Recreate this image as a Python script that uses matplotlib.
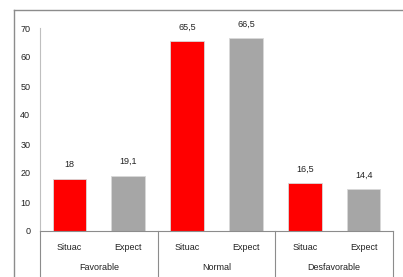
import matplotlib.pyplot as plt
from matplotlib.lines import Line2D

groups = ["Favorable", "Normal", "Desfavorable"]
series = ["Situac", "Expect"]
situac = [18, 65.5, 16.5]
expect = [19.1, 66.5, 14.4]
colors = ["#FF0000", "#A6A6A6"]

W, H = 403, 277
fig = plt.figure(figsize=(W / 100, H / 100), dpi=100)
plt.rcParams['font.family'] = ['Liberation Sans', 'DejaVu Sans']

# outer chart frame (only top and left edges visible in the crop)
fig.add_artist(Line2D([14 / W, 1], [1 - 10 / H, 1 - 10 / H], color="#8c8c8c", lw=1.0))
fig.add_artist(Line2D([14 / W, 14 / W], [0, 1 - 10 / H], color="#8c8c8c", lw=1.0))

ax = fig.add_axes([40 / W, 46 / H, (393 - 40) / W, (231 - 28) / H])

n = len(groups)
width = 0.57
for i in range(n):
    for j, vals in enumerate([situac, expect]):
        x = i * 2 + j + 0.5
        ax.bar(x, vals[i], width=width, color=colors[j], edgecolor="#d9d9d9", linewidth=0.6)
        ax.text(x, vals[i] + 4.8, str(vals[i]).replace(".", ","), ha="center", va="center",
                fontsize=6.5, color="#222222")

ax.set_xlim(0, 2 * n)
ax.set_ylim(0, 70)
ax.set_yticks(range(0, 71, 10))
ax.tick_params(axis="y", length=0, labelsize=6.5, pad=7, colors="#222222")
ax.set_xticks([])
for s in ["top", "right"]:
    ax.spines[s].set_visible(False)
ax.spines["left"].set_color("#bfbfbf")
ax.spines["bottom"].set_color("#8c8c8c")

# multi-level category axis
for k in range(n + 1):
    ax.plot([2 * k, 2 * k], [0, -0.3], transform=ax.get_xaxis_transform(),
            color="#8c8c8c", lw=0.8, clip_on=False)
for i in range(n):
    for j in range(2):
        ax.text(i * 2 + j + 0.5, -16 / 203, series[j], transform=ax.get_xaxis_transform(),
                ha="center", va="center", fontsize=6.5, color="#222222")
    ax.text(i * 2 + 1, -37 / 203, groups[i], transform=ax.get_xaxis_transform(),
            ha="center", va="center", fontsize=6.5, color="#222222")

fig.savefig("out.png", dpi=100)
